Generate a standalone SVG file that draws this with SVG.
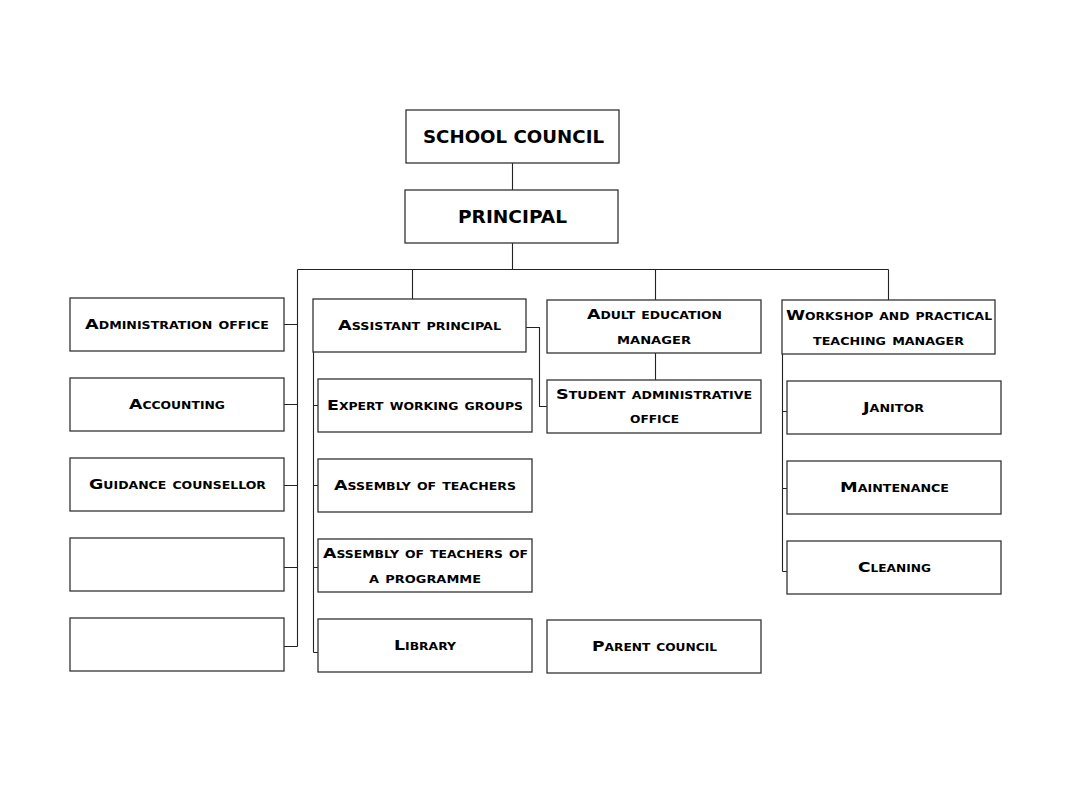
<svg xmlns="http://www.w3.org/2000/svg" width="1066" height="800" viewBox="0 0 1066 800">
<style>
.box{fill:#fff;stroke:#333;stroke-width:1.3}
.ln{fill:none;stroke:#222;stroke-width:1.1}
.t{font-family:"DejaVu Sans",sans-serif;font-weight:bold;font-size:14px;font-variant:small-caps;fill:#000;text-anchor:middle}
.big{font-family:"DejaVu Sans",sans-serif;font-weight:bold;font-size:18px;fill:#000;text-anchor:middle}
</style>
<rect width="1066" height="800" fill="#fff"/>
<g id="connectors">
<path class="ln" d="M512.5 163V190M512.5 243V269.5M297.5 269.5H888.5M412.5 269.5V299M655.5 269.5V300M888.5 269.5V300"/>
<path class="ln" d="M297.5 269.5V646.5M284 324.5H297.5M284 404.5H297.5M284 485.5H297.5M284 567.5H297.5M284 646.5H297.5"/>
<path class="ln" d="M313.5 352V652.5M313.5 405.5H318M313.5 485.5H318M313.5 567.5H318M313.5 652.5H318"/>
<path class="ln" d="M526 327.5H539.5V406.5H547"/>
<path class="ln" d="M655.5 353V380"/>
<path class="ln" d="M782.5 354V571.5M782.5 411.5H787M782.5 488.5H787M782.5 571.5H787"/>
</g>
<g id="school-council"><rect class="box" x="406" y="110" width="213" height="53"/><text class="big" x="513.5" y="143" textLength="181" lengthAdjust="spacingAndGlyphs">SCHOOL COUNCIL</text></g>
<g id="principal"><rect class="box" x="405" y="190" width="213" height="53"/><text class="big" x="512.5" y="223" textLength="109" lengthAdjust="spacingAndGlyphs">PRINCIPAL</text></g>
<g id="administration-office"><rect class="box" x="70" y="298" width="214" height="53"/><text class="t" x="177" y="329" textLength="184" lengthAdjust="spacingAndGlyphs">Administration office</text></g>
<g id="accounting"><rect class="box" x="70" y="378" width="214" height="53"/><text class="t" x="177" y="409" textLength="96" lengthAdjust="spacingAndGlyphs">Accounting</text></g>
<g id="guidance-counsellor"><rect class="box" x="70" y="458" width="214" height="53"/><text class="t" x="177.5" y="489" textLength="177" lengthAdjust="spacingAndGlyphs">Guidance counsellor</text></g>
<g id="empty-1"><rect class="box" x="70" y="538" width="214" height="53"/></g>
<g id="empty-2"><rect class="box" x="70" y="618" width="214" height="53"/></g>
<g id="assistant-principal"><rect class="box" x="313" y="299" width="213" height="53"/><text class="t" x="419.5" y="330" textLength="163" lengthAdjust="spacingAndGlyphs">Assistant principal</text></g>
<g id="expert-working-groups"><rect class="box" x="318" y="379" width="214" height="53"/><text class="t" x="425" y="410" textLength="196" lengthAdjust="spacingAndGlyphs">Expert working groups</text></g>
<g id="assembly-of-teachers"><rect class="box" x="318" y="459" width="214" height="53"/><text class="t" x="425" y="490" textLength="182" lengthAdjust="spacingAndGlyphs">Assembly of teachers</text></g>
<g id="assembly-programme"><rect class="box" x="318" y="539" width="214" height="53"/><text class="t" x="425.5" y="558" textLength="205" lengthAdjust="spacingAndGlyphs">Assembly of teachers of</text><text class="t" x="425" y="583" textLength="112" lengthAdjust="spacingAndGlyphs">a programme</text></g>
<g id="library"><rect class="box" x="318" y="619" width="214" height="53"/><text class="t" x="425" y="650" textLength="62" lengthAdjust="spacingAndGlyphs">Library</text></g>
<g id="adult-education-manager"><rect class="box" x="547" y="300" width="214" height="53"/><text class="t" x="654.5" y="319" textLength="135" lengthAdjust="spacingAndGlyphs">Adult education</text><text class="t" x="654" y="344" textLength="74" lengthAdjust="spacingAndGlyphs">manager</text></g>
<g id="student-administrative-office"><rect class="box" x="547" y="380" width="214" height="53"/><text class="t" x="654" y="399" textLength="196" lengthAdjust="spacingAndGlyphs">Student administrative</text><text class="t" x="654.5" y="423" textLength="49" lengthAdjust="spacingAndGlyphs">office</text></g>
<g id="parent-council"><rect class="box" x="547" y="620" width="214" height="53"/><text class="t" x="654.5" y="651" textLength="125" lengthAdjust="spacingAndGlyphs">Parent council</text></g>
<g id="workshop-manager"><rect class="box" x="782" y="300" width="213" height="54"/><text class="t" x="889" y="320" textLength="206" lengthAdjust="spacingAndGlyphs">Workshop and practical</text><text class="t" x="888.5" y="345" textLength="151" lengthAdjust="spacingAndGlyphs">teaching manager</text></g>
<g id="janitor"><rect class="box" x="787" y="381" width="214" height="53"/><text class="t" x="893.5" y="412" textLength="61" lengthAdjust="spacingAndGlyphs">Janitor</text></g>
<g id="maintenance"><rect class="box" x="787" y="461" width="214" height="53"/><text class="t" x="894.5" y="492" textLength="109" lengthAdjust="spacingAndGlyphs">Maintenance</text></g>
<g id="cleaning"><rect class="box" x="787" y="541" width="214" height="53"/><text class="t" x="894.5" y="572" textLength="73" lengthAdjust="spacingAndGlyphs">Cleaning</text></g>
</svg>
